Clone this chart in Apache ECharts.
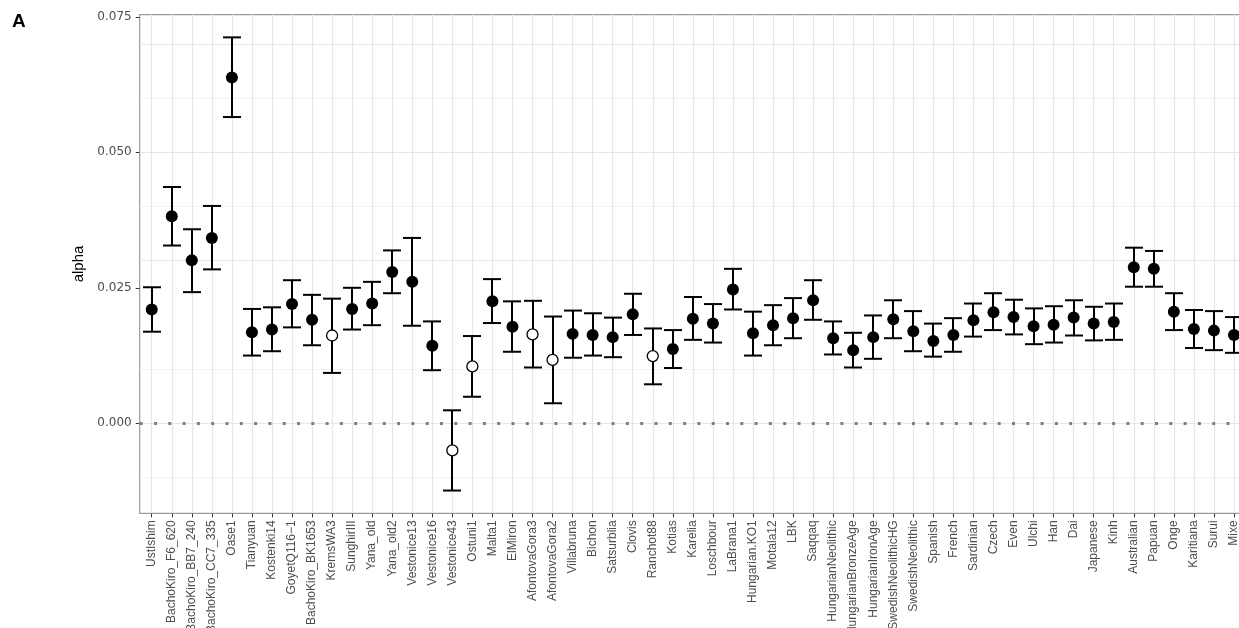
<!DOCTYPE html>
<html><head><meta charset="utf-8">
<script src="https://cdn.jsdelivr.net/npm/echarts@6/dist/echarts.min.js"></script>
<style>html,body{margin:0;padding:0;background:#fff;overflow:hidden}#c{width:1239px;height:628px}</style>
</head><body><div id="c"></div>
<script>
const categories = ["UstIshim","BachoKiro_F6_620","BachoKiro_BB7_240","BachoKiro_CC7_335","Oase1","Tianyuan","Kostenki14","GoyetQ116\u22121","BachoKiro_BK1653","KremsWA3","SunghirIII","Yana_old","Yana_old2","Vestonice13","Vestonice16","Vestonice43","Ostuni1","Malta1","ElMiron","AfontovaGora3","AfontovaGora2","Villabruna","Bichon","Satsurblia","Clovis","Ranchot88","Kotias","Karelia","Loschbour","LaBrana1","Hungarian.KO1","Motala12","LBK","Saqqaq","HungarianNeolithic","HungarianBronzeAge","HungarianIronAge","SwedishNeolithicHG","SwedishNeolithic","Spanish","French","Sardinian","Czech","Even","Ulchi","Han","Dai","Japanese","Kinh","Australian","Papuan","Onge","Karitiana","Surui","Mixe"];
const alpha = [0.0210,0.0382,0.0301,0.0342,0.0638,0.0168,0.0173,0.0220,0.0191,0.0162,0.0211,0.0221,0.0279,0.0261,0.0143,-0.0050,0.0105,0.0225,0.0178,0.0164,0.0117,0.0165,0.0163,0.0159,0.0201,0.0124,0.0137,0.0193,0.0184,0.0247,0.0166,0.0181,0.0194,0.0227,0.0157,0.0135,0.0159,0.0192,0.0170,0.0152,0.0163,0.0190,0.0205,0.0196,0.0179,0.0182,0.0195,0.0184,0.0187,0.0288,0.0285,0.0206,0.0174,0.0171,0.0163];
const upper = [0.0251,0.0436,0.0358,0.0401,0.0712,0.0211,0.0214,0.0264,0.0237,0.0230,0.0250,0.0261,0.0319,0.0342,0.0188,0.0024,0.0161,0.0266,0.0225,0.0226,0.0197,0.0208,0.0203,0.0195,0.0239,0.0175,0.0172,0.0233,0.0220,0.0285,0.0206,0.0218,0.0231,0.0264,0.0188,0.0167,0.0199,0.0227,0.0207,0.0184,0.0194,0.0221,0.0240,0.0228,0.0212,0.0216,0.0227,0.0215,0.0221,0.0324,0.0318,0.0240,0.0209,0.0207,0.0196];
const lower = [0.0169,0.0328,0.0242,0.0284,0.0565,0.0125,0.0133,0.0177,0.0144,0.0093,0.0173,0.0181,0.0240,0.0180,0.0098,-0.0124,0.0049,0.0185,0.0132,0.0103,0.0037,0.0121,0.0125,0.0122,0.0163,0.0072,0.0102,0.0154,0.0149,0.0210,0.0125,0.0144,0.0157,0.0191,0.0127,0.0103,0.0119,0.0157,0.0133,0.0123,0.0132,0.0160,0.0172,0.0164,0.0146,0.0149,0.0162,0.0153,0.0154,0.0252,0.0252,0.0172,0.0139,0.0135,0.0130];
const hollowNames = ["KremsWA3","Vestonice43","Ostuni1","AfontovaGora3","AfontovaGora2","Ranchot88"];
const yTicks = [0, 0.025, 0.05, 0.075];
const yMinorGrid = [-0.0125, 0.0125, 0.0375, 0.0625];
const yRange = [-0.0166, 0.0754];
const zeroLine = 0;

const idx = categories.map((c, i) => i);
const filledData = [], hollowData = [];
categories.forEach((c, i) => {
  (hollowNames.includes(c) ? hollowData : filledData).push([i, alpha[i]]);
});
const errData = categories.map((c, i) => [i, lower[i], upper[i]]);

const gridLines = [];
yTicks.forEach(v => gridLines.push({yAxis: v, lineStyle: {color: '#e6e6e6', width: 1.2, type: 'solid'}}));
yMinorGrid.forEach(v => gridLines.push({yAxis: v, lineStyle: {color: '#f1f1f1', width: 0.9, type: 'solid'}}));
idx.forEach(v => gridLines.push({xAxis: v, lineStyle: {color: '#e6e6e6', width: 1.2, type: 'solid'}}));

const chart = echarts.init(document.getElementById('c'), null, {renderer: 'canvas'});
chart.setOption({
  animation: false,
  textStyle: {fontFamily: 'Liberation Sans'},
  graphic: [{type: 'text', left: 12, top: 12, style: {text: 'A', font: 'bold 19px Liberation Sans', fill: '#000'}}],
  grid: {left: 139.7, right: -7, top: 14.6, bottom: 114.7, outerBoundsMode: 'none', containLabel: false,
    show: true, borderColor: '#9a9a9a', borderWidth: 1.2, backgroundColor: '#fff'},
  xAxis: {
    type: 'value', min: -0.6, max: categories.length - 0.4,
    axisLine: {show: false, onZero: false},
    splitLine: {show: false},
    axisTick: {show: true, customValues: idx, length: 4, lineStyle: {color: '#333', width: 1}},
    axisLabel: {customValues: idx, formatter: v => categories[Math.round(v)], rotate: 90, fontSize: 12, color: '#4d4d4d', margin: 7}
  },
  yAxis: {
    type: 'value', min: yRange[0], max: yRange[1],
    name: 'alpha', nameLocation: 'middle', nameGap: 44,
    nameTextStyle: {fontSize: 15, color: '#000'},
    axisLine: {show: false, onZero: false},
    splitLine: {show: false},
    axisTick: {show: true, customValues: yTicks, length: 4, lineStyle: {color: '#333', width: 1}},
    axisLabel: {customValues: yTicks, formatter: v => v.toFixed(3), fontSize: 12, fontFamily: 'DejaVu Sans', color: '#4d4d4d', margin: 8}
  },
  series: [
    {
      type: 'line', data: [], silent: true, z: 1,
      markLine: {z: 1, silent: true, symbol: ['none', 'none'], label: {show: false}, animation: false, data: gridLines}
    },
    {
      type: 'line', data: [], silent: true, z: 2,
      markLine: {z: 2, silent: true, symbol: ['none', 'none'], label: {show: false}, animation: false,
        data: [{yAxis: zeroLine, lineStyle: {color: '#7f7f7f', width: 3, type: [3, 11.3], cap: 'butt'}}]}
    },
    {
      type: 'custom', z: 3, data: errData, encode: {x: 0, y: [1, 2]},
      renderItem: (params, api) => {
        const x = api.value(0);
        const lo = api.coord([x, api.value(1)]);
        const hi = api.coord([x, api.value(2)]);
        const cx = Math.round(lo[0]);
        const hw = 9;
        return {type: 'group', children: [
          {type: 'line', shape: {x1: cx, y1: lo[1], x2: cx, y2: hi[1]}, style: {stroke: '#000', lineWidth: 2}},
          {type: 'line', shape: {x1: cx - hw, y1: hi[1], x2: cx + hw, y2: hi[1]}, style: {stroke: '#000', lineWidth: 2}},
          {type: 'line', shape: {x1: cx - hw, y1: lo[1], x2: cx + hw, y2: lo[1]}, style: {stroke: '#000', lineWidth: 2}}
        ]};
      }
    },
    {type: 'scatter', z: 4, data: filledData, symbol: 'circle', symbolSize: 12, itemStyle: {color: '#000', opacity: 1}},
    {type: 'scatter', z: 4, data: hollowData, symbol: 'circle', symbolSize: 11, itemStyle: {color: '#fff', borderColor: '#000', borderWidth: 1.3, opacity: 1}}
  ]
});
</script>
</body></html>
